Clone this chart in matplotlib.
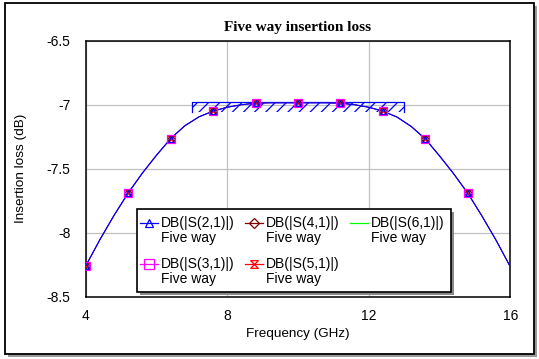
import matplotlib
matplotlib.use("Agg")
import matplotlib.pyplot as plt
from matplotlib.patches import Rectangle
from matplotlib.lines import Line2D
from matplotlib.path import Path

# ---------------- data ----------------
freq = [4.0, 4.4, 4.8, 5.2, 5.6, 6.0, 6.4, 6.8, 7.2, 7.6, 8.0, 8.4, 8.8, 9.2, 9.6,
        10.0, 10.4, 10.8, 11.2, 11.6, 12.0, 12.4, 12.8, 13.2, 13.6, 14.0, 14.4, 14.8,
        15.2, 15.6, 16.0]
loss = [-8.26, -8.055, -7.865, -7.69, -7.535, -7.395, -7.265, -7.165, -7.095, -7.05,
        -7.02, -7.0, -6.988, -6.985, -6.985, -6.985, -6.985, -6.985, -6.988, -7.0,
        -7.02, -7.05, -7.097, -7.17, -7.268, -7.40, -7.54, -7.692, -7.87, -8.06, -8.266]
marker_idx = [0, 3, 6, 9, 12, 15, 18, 21, 24, 27]

series_names = ["DB(|S(2,1)|)", "DB(|S(3,1)|)", "DB(|S(4,1)|)", "DB(|S(5,1)|)", "DB(|S(6,1)|)"]
series_sub = "Five way"
series_colors = ["#0000ff", "#ff00ff", "#800000", "#ff0000", "#00ff00"]

spec_x = [7.0, 13.0]
spec_top = -6.98
spec_bottom = -7.06

xticks = [4, 8, 12, 16]
xtick_labels = ["4", "8", "12", "16"]
yticks = [-8.5, -8, -7.5, -7, -6.5]
ytick_labels = ["-8.5", "-8", "-7.5", "-7", "-6.5"]

title = "Five way insertion loss"
xlabel = "Frequency (GHz)"
ylabel = "Insertion loss (dB)"

# ---------------- styling ----------------
W, H = 539, 359
plt.rcParams['font.family'] = ['Liberation Sans', 'DejaVu Sans']
plt.rcParams['hatch.linewidth'] = 0.9

def P(x, y):
    return (x / W, 1 - y / H)

hourglass = Path([(-1, 1), (1, 1), (-1, -1), (1, -1), (-1, 1)],
                 [Path.MOVETO, Path.LINETO, Path.LINETO, Path.LINETO, Path.CLOSEPOLY])
markers = ["^", "s", "D", hourglass, None]
msizes = [4.5, 5.5, 4.0, 4.5, 0]

fig = plt.figure(figsize=(W / 100, H / 100), dpi=100)
fig.patch.set_facecolor("white")

# outer frame with shadow
fig.add_artist(Rectangle(P(8, 357), 529 / W, 351 / H, transform=fig.transFigure,
                         facecolor="#9a9a9a", edgecolor="none", zorder=-3))
fig.add_artist(Rectangle(P(5, 354), 529 / W, 351 / H, transform=fig.transFigure,
                         facecolor="white", edgecolor="black", linewidth=1.3, zorder=-2))

l, r, t, b = 85.7, 510.3, 40.7, 296.7
ax = fig.add_axes([l / W, 1 - b / H, (r - l) / W, (b - t) / H])
ax.set_xlim(4, 16)
ax.set_ylim(-8.5, -6.5)
ax.set_xticks(xticks)
ax.set_xticklabels(xtick_labels, fontsize=10)
ax.set_yticks(yticks)
ax.set_yticklabels(ytick_labels, fontsize=10)
ax.tick_params(axis="both", length=0)
ax.tick_params(axis="y", pad=11)
ax.tick_params(axis="x", pad=9)
ax.grid(True, color="#c0c0c0", linewidth=0.9)
ax.set_axisbelow(True)
for s in ax.spines.values():
    s.set_linewidth(1.1)
    s.set_color("black")

# spec (hatched region)
ax.fill_between(spec_x, [spec_bottom, spec_bottom], [spec_top, spec_top],
                facecolor="none", edgecolor="#0000ff", hatch="///", linewidth=0, zorder=2)
ax.plot([spec_x[0], spec_x[0], spec_x[1], spec_x[1]],
        [spec_bottom, spec_top, spec_top, spec_bottom], color="#0000ff", lw=0.9, zorder=3)

# series (all coincide; blue drawn on top and slightly wider)
for i in [4, 3, 2, 1]:
    ax.plot(freq, loss, color=series_colors[i], lw=0.4, zorder=4)
ax.plot(freq, loss, color=series_colors[0], lw=0.9, zorder=4.5)
for i in [3, 2, 0, 1]:
    ax.plot([freq[k] for k in marker_idx], [loss[k] for k in marker_idx], ls="none",
            marker=markers[i], ms=msizes[i], mec=series_colors[i], mfc="none", mew=0.9,
            zorder=5 + (0.1 if i == 1 else 0))

# titles / labels
fig.text(*P(298, 27), title, ha="center", va="center", fontsize=11,
         fontfamily="Liberation Serif", fontweight="bold")
fig.text(*P(298, 334), xlabel, ha="center", va="center", fontsize=9.7)
fig.text(*P(21, 168.7), ylabel, ha="center", va="center", fontsize=9.7, rotation=90)

# legend (manual)
lx0, ly0, lx1, ly1 = 136.7, 209.3, 451, 291.7
fig.add_artist(Rectangle(P(lx0 + 3, ly1 + 3), (lx1 - lx0) / W, (ly1 - ly0) / H,
                         transform=fig.transFigure, facecolor="#8a8a8a", edgecolor="none", zorder=8))
fig.add_artist(Rectangle(P(lx0, ly1), (lx1 - lx0) / W, (ly1 - ly0) / H,
                         transform=fig.transFigure, facecolor="white", edgecolor="black",
                         linewidth=1.2, zorder=9))
col_x = [140, 245, 350]
row_y = [222.7, 264.3]
slots = [(0, 0), (0, 1), (1, 0), (1, 1), (2, 0)]
for i, (c, rw) in enumerate(slots):
    x0 = col_x[c]
    y0 = row_y[rw]
    x1 = x0 + 17.7
    xs0, ys0 = P(x0, y0)
    xs1, _ = P(x1, y0)
    fig.add_artist(Line2D([xs0, xs1], [ys0, ys0], transform=fig.transFigure,
                          color=series_colors[i], lw=0.9, zorder=10))
    if markers[i] is not None:
        fig.add_artist(Line2D([(xs0 + xs1) / 2], [ys0], transform=fig.transFigure,
                              ls="none", marker=markers[i], ms=msizes[i] + 1,
                              mec=series_colors[i], mfc="none", mew=0.9, zorder=10))
    fig.text(*P(x1 + 3.5, y0), series_names[i], ha="left", va="center", fontsize=10,
             zorder=11)
    fig.text(*P(x1 + 3.5, y0 + 15), series_sub, ha="left", va="center", fontsize=10,
             zorder=11)

fig.savefig("out.png", dpi=100)
